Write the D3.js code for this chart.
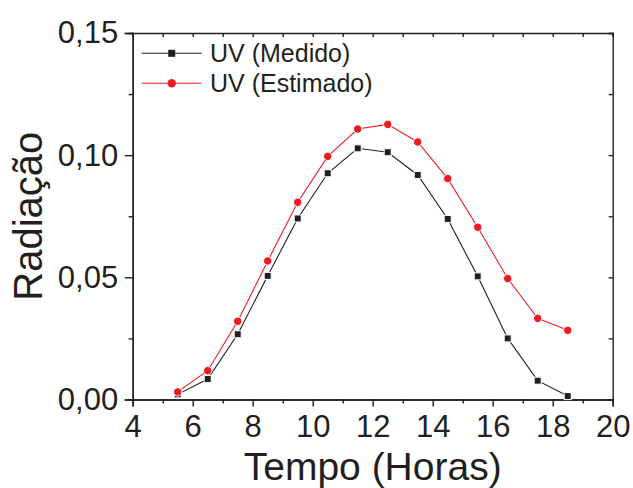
<!DOCTYPE html>
<html><head><meta charset="utf-8">
<script src="https://cdn.jsdelivr.net/npm/d3@7"></script>
<style>body{margin:0;background:#fff}svg{display:block}</style>
</head><body>
<script>
const hours = [5.5,6.5,7.5,8.5,9.5,10.5,11.5,12.5,13.5,14.5,15.5,16.5,17.5,18.5];
const uvMedido = [0.0021,0.0084,0.0267,0.0506,0.0741,0.0926,0.1028,0.1012,0.0919,0.0739,0.0504,0.0250,0.0077,0.0014];
const uvEstimado = [0.0031,0.0118,0.0320,0.0567,0.0807,0.0995,0.1107,0.1126,0.1054,0.0904,0.0705,0.0495,0.0332,0.0283];
const xTicks = [4,6,8,10,12,14,16,18,20];
const yTicks = [0,0.05,0.10,0.15];
const seriesNames = ["UV (Medido)","UV (Estimado)"];

const W=633,H=488;
const m={l:132.7,r:20.3,t:33,b:88.5};
const svg=d3.select("body").append("svg").attr("width",W).attr("height",H);
const font="'Liberation Sans', Arial, sans-serif";
const ink="#231f20";
const x=d3.scaleLinear().domain([4,20]).range([m.l,W-m.r]);
const y=d3.scaleLinear().domain([0,0.15]).range([H-m.b,m.t]);
const fmt=d=>d3.format(".2f")(d).replace(".",",");

const xMinor=d3.range(5,20,2);
const yMinor=[0.025,0.075,0.125];
const g=svg.append("g");
const bx=g.append("g").attr("transform",`translate(0,${y(0)})`)
  .call(d3.axisBottom(x).tickValues(xTicks).tickSize(7).tickPadding(8.5).tickFormat(d3.format("d")));
bx.append("g").call(d3.axisBottom(x).tickValues(xMinor).tickSize(4).tickFormat(""));
const ly=g.append("g").attr("transform",`translate(${x(4)},0)`)
  .call(d3.axisLeft(y).tickValues(yTicks).tickSize(8).tickPadding(6.5).tickFormat(fmt));
ly.append("g").call(d3.axisLeft(y).tickValues(yMinor).tickSize(4).tickFormat(""));
g.append("g").attr("transform",`translate(0,${y(0.15)})`)
  .call(d3.axisBottom(x).tickValues(d3.range(4,21,1)).tickSize(4).tickFormat(""));
g.append("g").attr("transform",`translate(${x(20)},0)`)
  .call(d3.axisLeft(y).tickValues(d3.range(0,0.1501,0.025)).tickSize(4).tickFormat(""));
g.selectAll(".domain").attr("stroke",ink).attr("stroke-width",1.4);
g.selectAll(".tick line").attr("stroke",ink).attr("stroke-width",1.4);
g.selectAll(".tick text").attr("fill",ink).style("font-family",font).style("font-size","31px");

const data=[{v:uvMedido,c:"#231f20",shape:"square"},{v:uvEstimado,c:"#ed1c24",shape:"circle"}];
const line=d3.line().x((d,i)=>x(hours[i])).y(d=>y(d));
data.forEach(s=>{
  svg.append("path").attr("d",line(s.v)).attr("fill","none").attr("stroke",s.c).attr("stroke-width",1.1);
  const pts=svg.append("g");
  s.v.forEach((d,i)=>{
    if(s.shape==="square"){
      pts.append("rect").attr("x",x(hours[i])-3.5).attr("y",y(d)-3.5).attr("width",7).attr("height",7)
        .attr("fill",s.c).attr("stroke","#fff").attr("stroke-width",1);
    } else {
      pts.append("circle").attr("cx",x(hours[i])).attr("cy",y(d)).attr("r",4.2)
        .attr("fill",s.c).attr("stroke","#fff").attr("stroke-width",1);
    }
  });
});

const leg=svg.append("g");
seriesNames.forEach((n,i)=>{
  const yy=53.3+i*30, s=data[i];
  leg.append("line").attr("x1",141.7).attr("x2",201.7).attr("y1",yy).attr("y2",yy).attr("stroke",s.c).attr("stroke-width",1.1);
  if(s.shape==="square") leg.append("rect").attr("x",171.7-3.5).attr("y",yy-3.5).attr("width",7).attr("height",7).attr("fill",s.c);
  else leg.append("circle").attr("cx",171.7).attr("cy",yy).attr("r",4.2).attr("fill",s.c);
  leg.append("text").attr("x",210).attr("y",yy+9).text(n).attr("fill",ink)
    .style("font-family",font).style("font-size","25px");
});

svg.append("text").attr("x",(x(4)+x(20))/2).attr("y",479.5).attr("text-anchor","middle")
  .text("Tempo (Horas)").attr("fill",ink).style("font-family",font).style("font-size","39px");
svg.append("text").attr("transform",`translate(41.5,${y(0.075)}) rotate(-90)`).attr("text-anchor","middle")
  .text("Radiação").attr("fill",ink).style("font-family",font).style("font-size","40px");
</script>
</body></html>
